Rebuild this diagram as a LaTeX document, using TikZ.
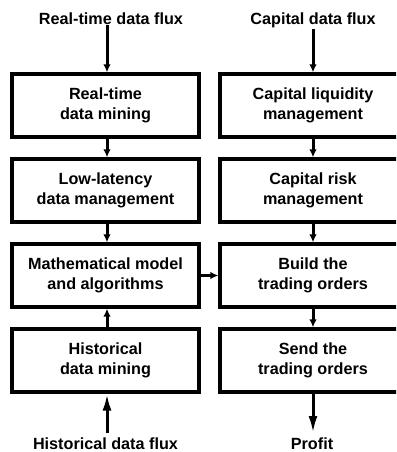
\documentclass[tikz,border=0pt]{standalone}
\usepackage{fontspec}
\setmainfont{Liberation Sans}
\usetikzlibrary{arrows.meta}
\begin{document}
\begin{tikzpicture}[x=1bp,y=-1bp,
  box/.style={draw, line width=3.3bp, minimum width=187bp, minimum height=63bp,
    align=center, inner sep=0pt, font=\fontsize{16.2bp}{19.5bp}\bfseries},
  lab/.style={font=\fontsize{16.2bp}{19.5bp}\bfseries, inner sep=0pt, anchor=base},
  conn/.style={line width=3bp, -{Latex[length=8bp,width=7.5bp]}},
  bigconn/.style={line width=3bp, -{Latex[length=17bp,width=9bp]}}
]
\useasboundingbox (0,0) rectangle (396,452);
\clip (0,0) rectangle (396,452);
% left column
\node[box] (b1) at (105.5,105.5) {Real-time\\data mining};
\node[box] (b2) at (105.5,190.5) {Low-latency\\data management};
\node[box] (b3) at (105.5,275.5) {Mathematical model\\and algorithms};
\node[box] (b4) at (105.5,360.5) {Historical\\data mining};
% right column
\node[box, minimum width=186bp] (c1) at (313,105.5) {Capital liquidity\\management};
\node[box, minimum width=186bp] (c2) at (313,190.5) {Capital risk\\management};
\node[box, minimum width=186bp] (c3) at (313,275.5) {Build the\\trading orders};
\node[box, minimum width=186bp] (c4) at (313,360.5) {Send the\\trading orders};
% labels
\node[lab] (t1) at (111,25) {Real-time data flux};
\node[lab] (t2) at (313,25) {Capital data flux};
\node[lab] (t3) at (105.5,449.5) {Historical data flux};
\node[lab] (t4) at (312,449.5) {Profit};
\coordinate (h) at (107,433);
\coordinate (p) at (313,433);
% connectors
\draw[conn] (t1.south -| 107,0) -- (b1.north -| 107,0);
\draw[conn] (b1.south -| 107,0) -- (b2.north -| 107,0);
\draw[conn] (b2.south -| 107,0) -- (b3.north -| 107,0);
\draw[conn] (b4.north -| 107,0) -- (b3.south -| 107,0);
\draw[bigconn] (h) -- (b4.south -| h);
\draw[conn] (t2.south) -- (c1.north);
\draw[conn] (c1) -- (c2);
\draw[conn] (c2) -- (c3);
\draw[conn] (c3) -- (c4);
\draw[bigconn] (c4) -- (p);
\draw[conn] (b3) -- (c3);
\end{tikzpicture}
\end{document}
